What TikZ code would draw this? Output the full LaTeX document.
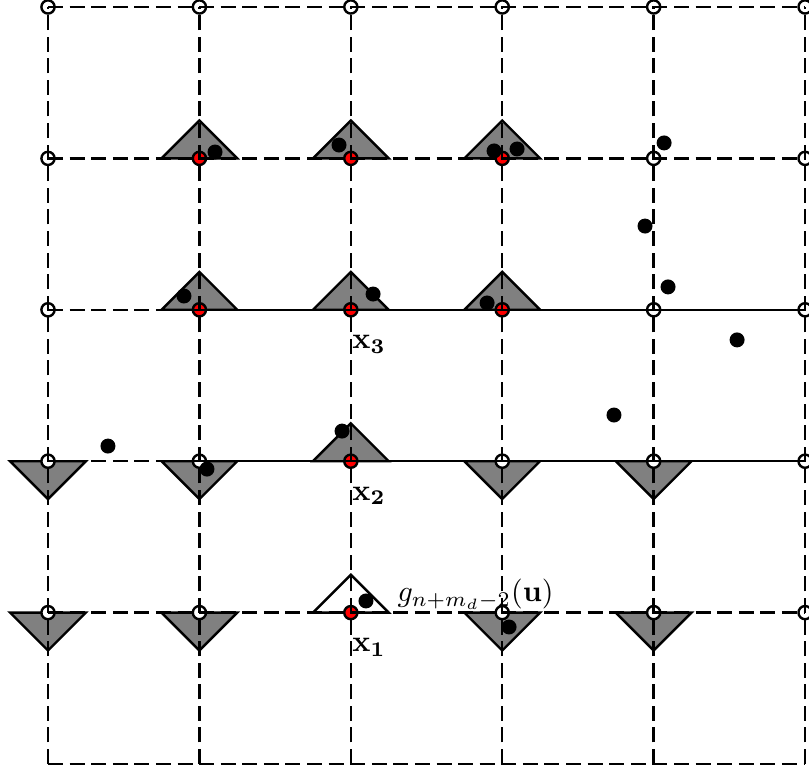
\documentclass[tikz,border=0pt]{standalone}
\usetikzlibrary{positioning}
\begin{document}
\begin{tikzpicture}[
      x=1.775cm, y=1.775cm,
      gridline/.style={line width=0.8pt, dash pattern=on 5pt off 2.2pt},
      solidline/.style={line width=0.8pt},
      uptri/.style={draw, line width=0.8pt, fill=gray},
      downtri/.style={draw, line width=0.8pt, fill=gray},
      site/.style={circle, draw, line width=0.8pt, fill=white, inner sep=0pt, minimum size=4.4pt},
      active/.style={site, fill=red},
      dot/.style={circle, fill=black, inner sep=0pt, minimum size=5pt},
      lbl/.style={inner sep=3.33pt}
    ]
    \useasboundingbox (-0.317,-0.04) rectangle (5.026,5.046);

    \foreach \i/\j in {1/4,2/4,3/4,1/3,2/3,3/3,2/2}
      \draw[uptri] (\i-0.25,\j) -- (\i,\j+0.25) -- (\i+0.25,\j) -- cycle;
    \draw[uptri, fill=white] (1.75,1) -- (2,1.25) -- (2.25,1) -- cycle;
    \foreach \i/\j in {0/2,1/2,3/2,4/2,0/1,1/1,3/1,4/1}
      \draw[downtri] (\i-0.25,\j) -- (\i,\j-0.25) -- (\i+0.25,\j) -- cycle;

    \foreach \i/\j in {0/5,1/5,2/5,3/5,4/5,5/5,0/4,4/4,5/4,0/3,4/3,5/3,0/2,1/2,3/2,4/2,5/2,0/1,1/1,3/1,4/1,5/1}
      \node[site] (s-\i-\j) at (\i,\j) {};
    \foreach \i/\j in {1/4,2/4,3/4,1/3,2/3,3/3,2/2,2/1}
      \node[active] (s-\i-\j) at (\i,\j) {};

    \foreach \k in {0,...,5} {
      \draw[gridline] (\k,0) -- (\k,5);
      \draw[gridline] (0,\k) -- (5,\k);
    }
    \draw[solidline] (0.75,3) -- (5,3);
    \draw[solidline] (0.75,2) -- (5,2);

    \foreach \x/\y [count=\k] in {1.103/4.042, 1.922/4.088, 2.946/4.049, 3.098/4.062, 4.069/4.102,
        3.943/3.553, 4.095/3.151, 0.898/3.091, 2.147/3.104, 2.900/3.045, 4.551/2.801,
        3.738/2.305, 0.396/2.100, 1.942/2.199, 1.050/1.948, 2.100/1.077, 3.045/0.905}
      \node[dot] (d\k) at (\x,\y) {};

    \node[lbl, anchor=north west] (x3) at (1.94,2.9) {$\mathbf{x_3}$};
    \node[lbl, anchor=north west] (x2) at (1.94,1.9) {$\mathbf{x_2}$};
    \node[lbl, anchor=north west] (x1) at (1.94,0.9) {$\mathbf{x_1}$};
    \node[lbl, anchor=south west] (g) at (2.239,0.951) {$g_{n+m_d-2}(\mathbf{u})$};
  \end{tikzpicture}
\end{document}
